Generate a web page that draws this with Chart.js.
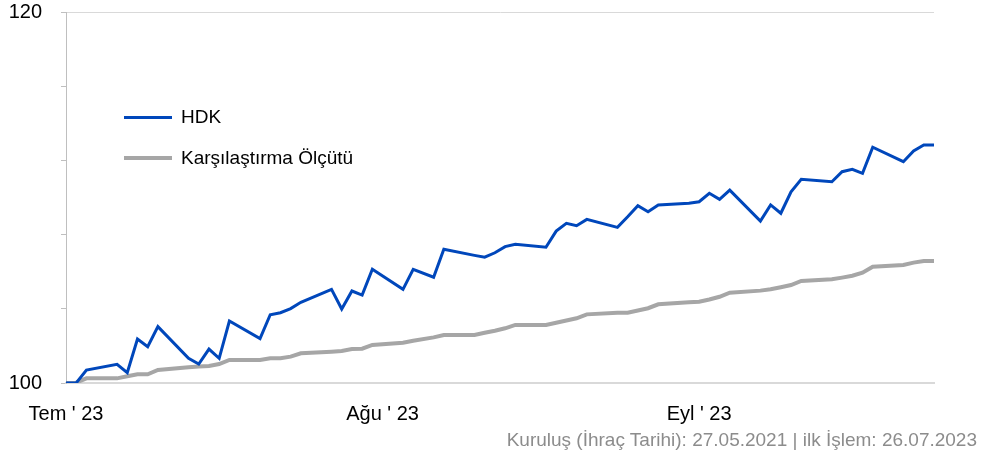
<!DOCTYPE html>
<html>
<head>
<meta charset="utf-8">
<script src="https://cdn.jsdelivr.net/npm/chart.js@4/dist/chart.umd.min.js"></script>
<style>
  body { margin: 0; background: #fff; }
  #wrap { position: relative; width: 993px; height: 457px; font-family: "Liberation Sans", Arial, sans-serif; }
  #chart { position: absolute; left: 0; top: 0; }
  .leg { position: absolute; left: 124px; font-size: 19px; color: #000; }
  .leg span.ln { position: absolute; left: 0; width: 48px; }
  .leg span.tx { position: absolute; left: 57px; top: -11px; line-height: 22px; white-space: nowrap; }
  #note { position: absolute; right: 16px; top: 429px; font-size: 19px; line-height: 22px; color: #8c8c8c; white-space: nowrap; }
</style>
</head>
<body>
<div id="wrap">
  <canvas id="chart" width="993" height="457"></canvas>
  <div class="leg" style="top:117px"><span class="ln" style="top:-1.5px;height:3px;background:#0047bb"></span><span class="tx">HDK</span></div>
  <div class="leg" style="top:158px"><span class="ln" style="top:-2px;height:4px;background:#a6a6a6"></span><span class="tx">Karşılaştırma Ölçütü</span></div>
  <div id="note">Kuruluş (İhraç Tarihi): 27.05.2021 | ilk İşlem: 26.07.2023</div>
</div>
<script>
var dates = [
  '2023-07-26', '2023-07-27', '2023-07-28', '2023-07-31', '2023-08-01', '2023-08-02', '2023-08-03', '2023-08-04',
  '2023-08-07', '2023-08-08', '2023-08-09', '2023-08-10', '2023-08-11', '2023-08-14', '2023-08-15', '2023-08-16',
  '2023-08-17', '2023-08-18', '2023-08-21', '2023-08-22', '2023-08-23', '2023-08-24', '2023-08-25', '2023-08-28',
  '2023-08-29', '2023-08-31', '2023-09-01', '2023-09-04', '2023-09-05', '2023-09-06', '2023-09-07', '2023-09-08',
  '2023-09-11', '2023-09-12', '2023-09-13', '2023-09-14', '2023-09-15', '2023-09-18', '2023-09-19', '2023-09-20',
  '2023-09-21', '2023-09-22', '2023-09-25', '2023-09-26', '2023-09-27', '2023-09-28', '2023-09-29', '2023-10-02',
  '2023-10-03', '2023-10-04', '2023-10-05', '2023-10-06', '2023-10-09', '2023-10-10', '2023-10-11', '2023-10-12',
  '2023-10-13', '2023-10-16', '2023-10-17', '2023-10-18', '2023-10-19'
];
var hdk = [
  100.00, 100.00, 100.70, 101.01, 100.56, 102.37, 101.96, 103.04,
  101.33, 101.02, 101.83, 101.33, 103.34, 102.39, 103.68, 103.79,
  104.01, 104.35, 105.05, 103.99, 104.96, 104.74, 106.13, 105.05,
  106.13, 105.70, 107.21, 106.88, 106.78, 107.02, 107.35, 107.48,
  107.32, 108.19, 108.61, 108.48, 108.82, 108.39, 108.96, 109.56,
  109.23, 109.60, 109.69, 109.77, 110.23, 109.90, 110.40, 108.73,
  109.60, 109.15, 110.31, 110.98, 110.85, 111.39, 111.52, 111.30,
  112.71, 111.93, 112.51, 112.83, 112.83
];
var benchmark = [
  100.00, 100.02, 100.25, 100.25, 100.36, 100.47, 100.47, 100.70,
  100.85, 100.89, 100.92, 101.02, 101.24, 101.24, 101.33, 101.33,
  101.42, 101.60, 101.69, 101.73, 101.83, 101.85, 102.05, 102.17,
  102.28, 102.46, 102.59, 102.59, 102.71, 102.82, 102.95, 103.13,
  103.13, 103.25, 103.37, 103.49, 103.70, 103.79, 103.79, 103.91,
  104.03, 104.24, 104.35, 104.38, 104.50, 104.65, 104.87, 104.98,
  105.05, 105.16, 105.28, 105.50, 105.59, 105.68, 105.78, 105.95,
  106.27, 106.36, 106.49, 106.58, 106.58
];
var tickDates = ['2023-07-26', '2023-08-26', '2023-09-26'];
var tickLabels = ["Tem ' 23", "Ağu ' 23", "Eyl ' 23"];
var yLabels = [100, 120];

var start = Date.parse(dates[0]);
function dayOf(s) { return Math.round((Date.parse(s) - start) / 86400000); }
var days = dates.map(dayOf);
var tickDays = tickDates.map(dayOf);

function pts(arr) {
  return arr.map(function(v, i) { return { x: days[i], y: v }; });
}

var fontFamily = '"Liberation Sans", Arial, sans-serif';
var ctx = document.getElementById('chart').getContext('2d');
new Chart(ctx, {
  type: 'line',
  data: {
    datasets: [{
      label: 'HDK',
      data: pts(hdk),
      borderColor: '#0047bb',
      borderWidth: 3,
      pointRadius: 0,
      tension: 0,
      order: 0
    }, {
      label: 'Karşılaştırma Ölçütü',
      data: pts(benchmark),
      borderColor: '#a6a6a6',
      borderWidth: 4,
      pointRadius: 0,
      tension: 0,
      order: 1
    }]
  },
  options: {
    responsive: false,
    animation: false,
    layout: { padding: { top: 12, right: 59, left: 0, bottom: 0 } },
    plugins: { legend: { display: false }, tooltip: { enabled: false } },
    scales: {
      x: {
        type: 'linear',
        min: 0,
        max: days[days.length - 1],
        afterBuildTicks: function(scale) {
          scale.ticks = tickDays.map(function(d) { return { value: d }; });
        },
        afterFit: function(scale) {
          scale.height = 74;
          scale.paddingLeft = 0;
          scale.paddingRight = 0;
        },
        grid: { display: false },
        border: { color: '#d9d9d9', width: 2 },
        ticks: {
          padding: 11,
          maxRotation: 0,
          autoSkip: false,
          color: '#000',
          font: { family: fontFamily, size: 20 },
          callback: function(v) { return tickLabels[tickDays.indexOf(v)]; }
        }
      },
      y: {
        min: 100,
        max: 120,
        afterFit: function(scale) {
          scale.width = 66;
          scale.paddingTop = 0;
          scale.paddingBottom = 0;
        },
        grid: {
          drawOnChartArea: true,
          color: function(c) { return c.tick && c.tick.value === 120 ? '#d9d9d9' : 'rgba(0,0,0,0)'; },
          tickColor: '#bfbfbf',
          tickLength: 5
        },
        border: { color: '#bfbfbf', width: 1 },
        ticks: {
          stepSize: 4,
          padding: 19,
          color: '#000',
          font: { family: fontFamily, size: 20 },
          callback: function(v) { return yLabels.indexOf(v) >= 0 ? v : ''; }
        }
      }
    }
  }
});
</script>
</body>
</html>
